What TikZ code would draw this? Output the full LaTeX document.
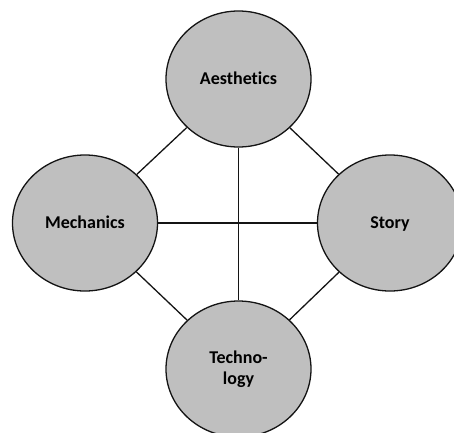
\documentclass[tikz,border=0pt]{standalone}
\usepackage{fontspec}
\setmainfont{Carlito}[Ligatures=NoCommon]
\usetikzlibrary{shapes.geometric}
\definecolor{circfill}{RGB}{191,191,191}
\definecolor{strokec}{RGB}{20,20,20}
\begin{document}
\begin{tikzpicture}[x=1pt,y=-1pt,
  bubble/.style={ellipse,draw=strokec,fill=circfill,line width=1.3pt,
    minimum width=145pt,minimum height=136pt,inner sep=0pt,
    font=\fontsize{18}{21}\selectfont\bfseries,align=center},
  oneline/.style={text height=12.5pt,text depth=2.5pt},
  link/.style={draw=strokec,line width=1.3pt}]
\useasboundingbox (0,0) rectangle (454,432);
\clip (0,0) rectangle (454,432);
\node[bubble,oneline] (A) at (238.5,79) {Aesthetics};
\node[bubble,oneline] (M) at (85,223) {Mechanics};
\node[bubble,oneline] (S) at (390,223) {Story};
\node[bubble] (T) at (238.5,369) {Techno-\\logy};
\draw[link] (A) -- (M);
\draw[link] (A) -- (S);
\draw[link] (M) -- (T);
\draw[link] (S) -- (T);
\draw[link] (A) -- (T);
\draw[link] (M) -- (S);
\end{tikzpicture}
\end{document}
